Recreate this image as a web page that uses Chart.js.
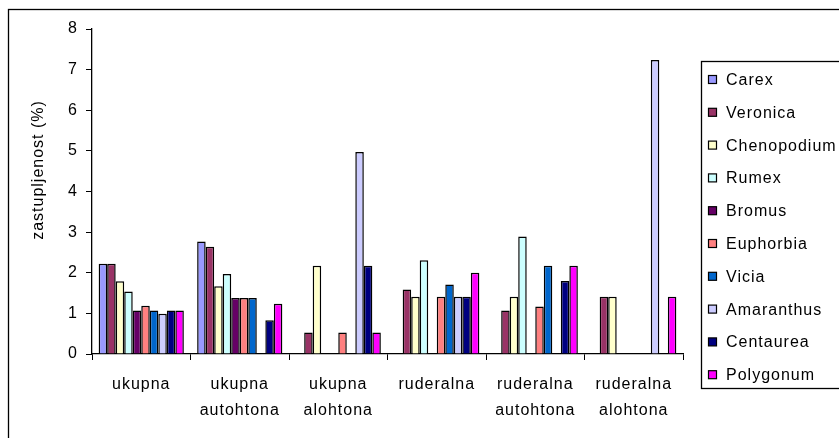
<!DOCTYPE html>
<html>
<head>
<meta charset="utf-8">
<script src="https://cdn.jsdelivr.net/npm/chart.js@4/dist/chart.umd.min.js"></script>
<style>
  html, body { margin: 0; padding: 0; background: #fff; }
  #wrap { width: 839px; height: 438px; }
</style>
</head>
<body>
<div id="wrap"><canvas id="c" width="839" height="438"></canvas></div>
<script>
// Categories (two-line labels on the x axis)
const categories = [
  ['ukupna'],
  ['ukupna', 'autohtona'],
  ['ukupna', 'alohtona'],
  ['ruderalna'],
  ['ruderalna', 'autohtona'],
  ['ruderalna', 'alohtona']
];

// Share (%) of each genus per category; null = not present
const carex       = [2.22, 2.77, null, null, null, null];
const veronica    = [2.22, 2.64, 0.53, 1.59, 1.07, 1.41];
const chenopodium = [1.79, 1.67, 2.17, 1.41, 1.41, 1.41];
const rumex       = [1.54, 1.97, null, 2.31, 2.89, null];
const bromus      = [1.07, 1.38, null, null, null, null];
const euphorbia   = [1.19, 1.38, 0.53, 1.41, 1.17, null];
const vicia       = [1.07, 1.38, null, 1.71, 2.17, null];
const amaranthus  = [0.99, null, 4.97, 1.41, null, 7.24];
const centaurea   = [1.07, 0.83, 2.17, 1.41, 1.80, null];
const polygonum   = [1.07, 1.24, 0.53, 2.00, 2.17, 1.41];

const seriesNames = ['Carex', 'Veronica', 'Chenopodium', 'Rumex', 'Bromus',
                     'Euphorbia', 'Vicia', 'Amaranthus', 'Centaurea', 'Polygonum'];
const seriesValues = [carex, veronica, chenopodium, rumex, bromus,
                      euphorbia, vicia, amaranthus, centaurea, polygonum];
const seriesColors = ['#9999FF', '#993366', '#FFFFCC', '#CCFFFF', '#660066',
                      '#FF8080', '#0066CC', '#CCCCFF', '#000080', '#FF00FF'];

// Y axis range and title
const yMin = 0, yMax = 8, yStep = 1;
const yTitle = 'zastupljenost (%)';

const FONT = "'Liberation Sans', Arial, sans-serif";

// Wider glyph spacing for all canvas text
const spacingPlugin = {
  id: 'spacing',
  beforeLayout(chart) { chart.ctx.letterSpacing = '1px'; },
  beforeDraw(chart) { chart.ctx.letterSpacing = '1px'; }
};

// Outer frame, rotated y title and the boxed legend
const decorPlugin = {
  id: 'decor',
  afterDraw(chart) {
    const ctx = chart.ctx;
    ctx.save();
    ctx.letterSpacing = '1px';
    ctx.strokeStyle = '#000';
    ctx.lineWidth = 1.3;
    ctx.strokeRect(8.5, 9.5, 900, 500);

    // y axis title
    ctx.save();
    ctx.translate(39, 170);
    ctx.rotate(-Math.PI / 2);
    ctx.fillStyle = '#000';
    ctx.font = '16px ' + FONT;
    ctx.textAlign = 'center';
    ctx.textBaseline = 'middle';
    ctx.fillText(yTitle, 0, 0);
    ctx.restore();

    // legend box
    ctx.lineWidth = 1.3;
    ctx.strokeRect(701.5, 61.5, 200, 327);
    ctx.font = '16px ' + FONT;
    ctx.textAlign = 'left';
    ctx.textBaseline = 'middle';
    chart.data.datasets.forEach((ds, i) => {
      const cy = 80 + i * 32.8;
      ctx.fillStyle = ds.backgroundColor;
      ctx.fillRect(708.5, cy - 4.5, 8, 8);
      ctx.lineWidth = 1.2;
      ctx.strokeStyle = '#000';
      ctx.strokeRect(708.5, cy - 4.5, 8, 8);
      ctx.fillStyle = '#000';
      ctx.fillText(ds.label, 726, cy + 0.5);
    });
    ctx.restore();
  }
};

new Chart(document.getElementById('c'), {
  type: 'bar',
  data: {
    labels: categories,
    datasets: seriesNames.map((name, i) => ({
      label: name,
      data: seriesValues[i],
      backgroundColor: seriesColors[i],
      borderColor: '#000',
      borderWidth: 1.5,
      borderSkipped: 'bottom',
      categoryPercentage: 0.865,
      barPercentage: 1.0
    }))
  },
  options: {
    responsive: false,
    animation: false,
    devicePixelRatio: 1,
    layout: { padding: { left: 0, top: 29, right: 156, bottom: 0 } },
    plugins: {
      legend: { display: false },
      tooltip: { enabled: false }
    },
    scales: {
      x: {
        afterFit(scale) { scale.height = 84; },
        grid: {
          display: true,
          drawOnChartArea: false,
          drawTicks: true,
          tickLength: 6,
          color: '#000',
          offset: true
        },
        border: { display: true, color: '#000', width: 1.3 },
        ticks: {
          color: '#000',
          font: { family: FONT, size: 16, lineHeight: 1.6 },
          padding: 12,
          maxRotation: 0,
          autoSkip: false
        }
      },
      y: {
        min: yMin,
        max: yMax,
        afterFit(scale) { scale.width = 92; },
        grid: {
          display: true,
          drawOnChartArea: false,
          drawTicks: true,
          tickLength: 6,
          color: '#000'
        },
        border: { display: true, color: '#000', width: 1.3 },
        ticks: {
          stepSize: yStep,
          color: '#000',
          font: { family: FONT, size: 16 },
          padding: 8
        },
        title: { display: false }
      }
    }
  },
  plugins: [spacingPlugin, decorPlugin]
});
</script>
</body>
</html>
